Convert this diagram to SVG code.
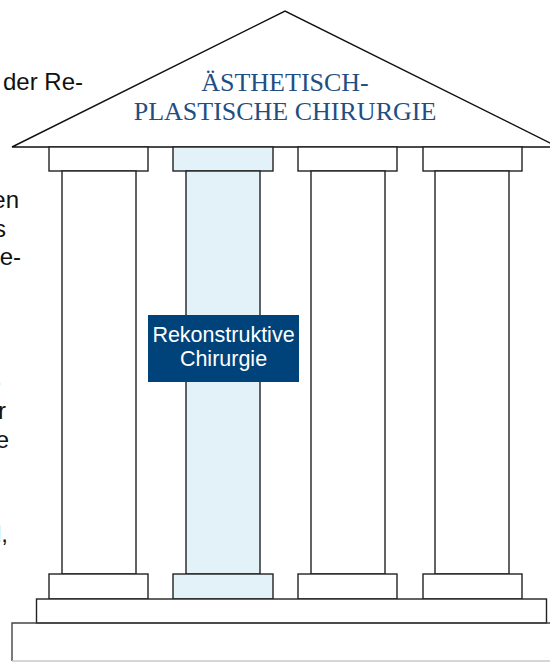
<svg xmlns="http://www.w3.org/2000/svg" width="550" height="662" viewBox="0 0 550 662">
  <style>
    .side { font-family: "Liberation Sans", Arial, sans-serif; font-size: 24px; fill: #111; }
    .part { fill: #fff; stroke: #222; stroke-width: 1.4; }
    .blue { fill: #e3f1f9; }
    .roof-text { font-family: "Liberation Serif", "Times New Roman", serif; font-size: 26px; fill: #1f4f82; text-anchor: middle; }
    .label { font-family: "Liberation Sans", Arial, sans-serif; font-size: 21.5px; fill: #fff; text-anchor: middle; }
  </style>

  <!-- running body text partly hidden behind the temple -->
  <g id="body-text">
    <text class="side" x="3" y="90">der Re-</text>
    <text class="side" x="19" y="208" text-anchor="end">en</text>
    <text class="side" x="6" y="237" text-anchor="end">s</text>
    <text class="side" x="21" y="265" text-anchor="end">e-</text>
    <text class="side" x="2" y="385" text-anchor="end">.</text>
    <text class="side" x="6" y="419" text-anchor="end">r</text>
    <text class="side" x="9" y="448" text-anchor="end">e</text>
    <text class="side" x="8" y="542" text-anchor="end">l,</text>
  </g>

  <!-- pediment -->
  <g id="roof">
    <polygon points="12,147 285,11 558,147" fill="#fff" stroke="#111" stroke-width="1.4"/>
    <text class="roof-text" x="285" y="91">ÄSTHETISCH-</text>
    <text class="roof-text" x="285" y="120">PLASTISCHE CHIRURGIE</text>
  </g>

  <!-- four columns: capital, shaft, base -->
  <g id="column-1">
    <rect class="part" x="49" y="147" width="99" height="24"/>
    <rect class="part" x="62" y="171" width="74" height="403"/>
    <rect class="part" x="49" y="574" width="99" height="25"/>
  </g>
  <g id="column-2">
    <rect class="part blue" x="173" y="147" width="100" height="24"/>
    <rect class="part blue" x="186" y="171" width="74" height="403"/>
    <rect class="part blue" x="173" y="574" width="100" height="25"/>
  </g>
  <g id="column-3">
    <rect class="part" x="298" y="147" width="99" height="24"/>
    <rect class="part" x="311" y="171" width="74" height="403"/>
    <rect class="part" x="298" y="574" width="99" height="25"/>
  </g>
  <g id="column-4">
    <rect class="part" x="423" y="147" width="99" height="24"/>
    <rect class="part" x="435" y="171" width="74" height="403"/>
    <rect class="part" x="423" y="574" width="99" height="25"/>
  </g>

  <!-- steps -->
  <g id="plinth">
    <rect class="part" x="36.5" y="599" width="510" height="24"/>
  </g>
  <g id="foundation">
    <path d="M12,661 V623 H560" fill="none" stroke="#444" stroke-width="1.4"/>
    <line x1="12" y1="661" x2="560" y2="661" stroke="#c8c8c8" stroke-width="1.4"/>
  </g>

  <!-- label on the second column -->
  <g id="reconstructive">
    <rect x="148" y="315" width="151" height="67" fill="#00437a"/>
    <text class="label" x="223.5" y="342">Rekonstruktive</text>
    <text class="label" x="223.5" y="366">Chirurgie</text>
  </g>
</svg>
